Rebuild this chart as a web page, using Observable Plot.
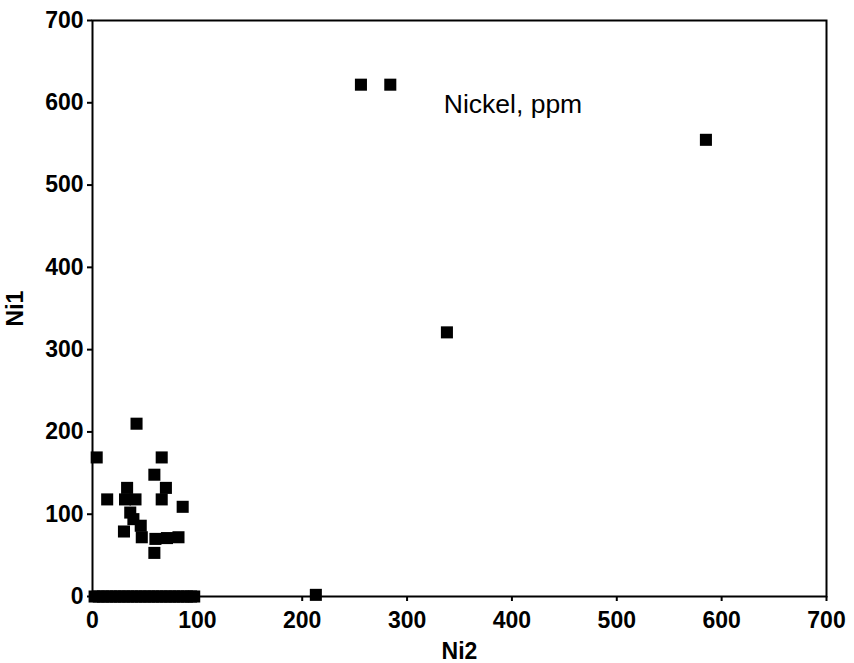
<!DOCTYPE html>
<html>
<head>
<meta charset="utf-8">
<script src="https://cdn.jsdelivr.net/npm/d3@7"></script>
<script src="https://cdn.jsdelivr.net/npm/@observablehq/plot@0.6"></script>
<style>
  html, body { margin: 0; padding: 0; background: #fff; }
  #chart svg { font-family: "Liberation Sans", Arial, sans-serif; }
</style>
</head>
<body>
<div id="chart"></div>
<script>
// Ni2 (x) and Ni1 (y) values, ppm
const ni2 = [256, 284, 585, 338, 213,
  42, 4, 66, 59, 33, 70, 14, 31, 41, 66, 86, 36, 39, 46, 30, 47, 60, 71, 82, 59,
  2, 6, 10, 14, 18, 22, 26, 30, 34, 38, 42, 46, 50, 54, 58, 62, 66, 70, 74, 78, 82, 86, 90, 94, 97];
const ni1 = [622, 622, 555, 321, 2,
  210, 169, 169, 148, 132, 132, 118, 118, 118, 118, 109, 102, 94, 86, 79, 72, 70, 71, 72, 53,
  0, 0, 0, 0, 0, 0, 0, 0, 0, 0, 0, 0, 0, 0, 0, 0, 0, 0, 0, 0, 0, 0, 0, 0, 0];
const xTicks = [0, 100, 200, 300, 400, 500, 600, 700];
const yTicks = [0, 100, 200, 300, 400, 500, 600, 700];
const annotation = [{x: 335, y: 598, text: "Nickel, ppm"}];

const data = ni2.map((x, i) => ({x, y: ni1[i]}));

const axisText = {fontSize: 23, fontWeight: "bold"};

const chart = Plot.plot({
  width: 854,
  height: 663,
  marginLeft: 92,
  marginRight: 28,
  marginTop: 20,
  marginBottom: 67,
  style: {background: "#fff", color: "#000", fontFamily: "Liberation Sans, Arial, sans-serif"},
  x: {domain: [0, 700]},
  y: {domain: [0, 700]},
  marks: [
    Plot.frame({stroke: "#000", strokeWidth: 2}),
    Plot.axisX({ticks: xTicks, tickSize: 5, tickPadding: 10, strokeWidth: 2, label: "Ni2", labelAnchor: "center", labelArrow: "none", labelOffset: 62, ...axisText}),
    Plot.axisY({ticks: yTicks, tickSize: 5, tickPadding: 4, strokeWidth: 2, label: "Ni1", labelAnchor: "center", labelArrow: "none", labelOffset: 86, ...axisText}),
    Plot.dot(data, {x: "x", y: "y", symbol: "square", r: 6.8, fill: "#000", stroke: "none"}),
    Plot.text(annotation, {x: "x", y: "y", text: "text", textAnchor: "start", fontSize: 26.5, fill: "#000"})
  ]
});
document.getElementById("chart").append(chart);
</script>
</body>
</html>
